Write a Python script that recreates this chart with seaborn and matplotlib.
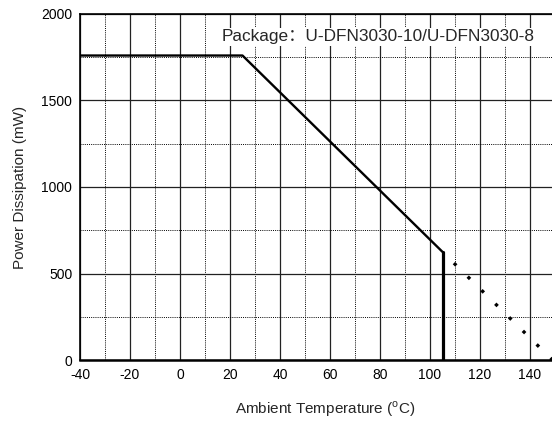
import numpy as np
import pandas as pd
import seaborn as sns
import matplotlib.pyplot as plt
from matplotlib.ticker import MultipleLocator

# derating curve
derate_temp = [-40, 25, 105]
derate_power = [1760, 1760, 625]
cutoff_temp = [105, 105]
cutoff_power = [625, 0]
ext_temp = [105, 149]
ext_power = [625, 0]

package_text = "Package：U-DFN3030-10/U-DFN3030-8"

sns.set_style("white")
plt.rcParams['font.family'] = ['Liberation Sans', 'Noto Sans CJK SC', 'DejaVu Sans']
plt.rcParams['mathtext.fontset'] = 'custom'
plt.rcParams['mathtext.rm'] = 'Liberation Sans'
plt.rcParams['axes.unicode_minus'] = False

fig = plt.figure(figsize=(5.52, 4.23), dpi=100)
ax = fig.add_axes([80 / 552, 1 - 360 / 423, 1 - 80 / 552, 346 / 423])

derate = pd.DataFrame({"t": derate_temp, "p": derate_power})
cutoff = pd.DataFrame({"t": cutoff_temp, "p": cutoff_power})
ext = pd.DataFrame({"t": ext_temp, "p": ext_power})

sns.lineplot(data=derate, x="t", y="p", ax=ax, color="black", lw=1.7,
             sort=False, estimator=None, zorder=5)
sns.lineplot(data=cutoff, x="t", y="p", ax=ax, color="black", lw=2.3,
             sort=False, estimator=None, zorder=5)
sns.lineplot(data=ext, x="t", y="p", ax=ax, color="black", lw=2.4,
             sort=False, estimator=None, zorder=5,
             linestyle=(1.0, (1.0, 4.8)))

ax.set_xlim(-40, 148.8)
ax.set_ylim(0, 2000)
ax.xaxis.set_major_locator(MultipleLocator(20))
ax.xaxis.set_minor_locator(MultipleLocator(10))
ax.yaxis.set_major_locator(MultipleLocator(500))
ax.yaxis.set_minor_locator(MultipleLocator(250))
ax.grid(which="major", color="#222222", lw=0.9, ls="-")
ax.grid(which="minor", color="black", lw=0.7, ls=(0, (1, 1.2)))
ax.set_axisbelow(True)
ax.tick_params(which="both", length=0, labelsize=10, colors="black")
ax.tick_params(axis="x", pad=6)
ax.tick_params(axis="y", pad=5.5)

for side in ["left", "top", "bottom"]:
    ax.spines[side].set_color("black")
    ax.spines[side].set_linewidth(1.2)
ax.spines["bottom"].set_linewidth(1.8)
ax.spines["right"].set_visible(False)

ax.set_xlabel("Ambient Temperature ($^{\\mathrm{o}}$C)", fontsize=11, labelpad=12)
ax.xaxis.label.set_x(0.519)
ax.set_ylabel("Power Dissipation (mW)", fontsize=11, labelpad=10)

ax.text(0.964, 0.934, package_text, transform=ax.transAxes, ha="right",
        va="center", fontsize=12.4, zorder=6,
        bbox=dict(facecolor="white", edgecolor="none", pad=1))

fig.savefig("out.png", dpi=100)
